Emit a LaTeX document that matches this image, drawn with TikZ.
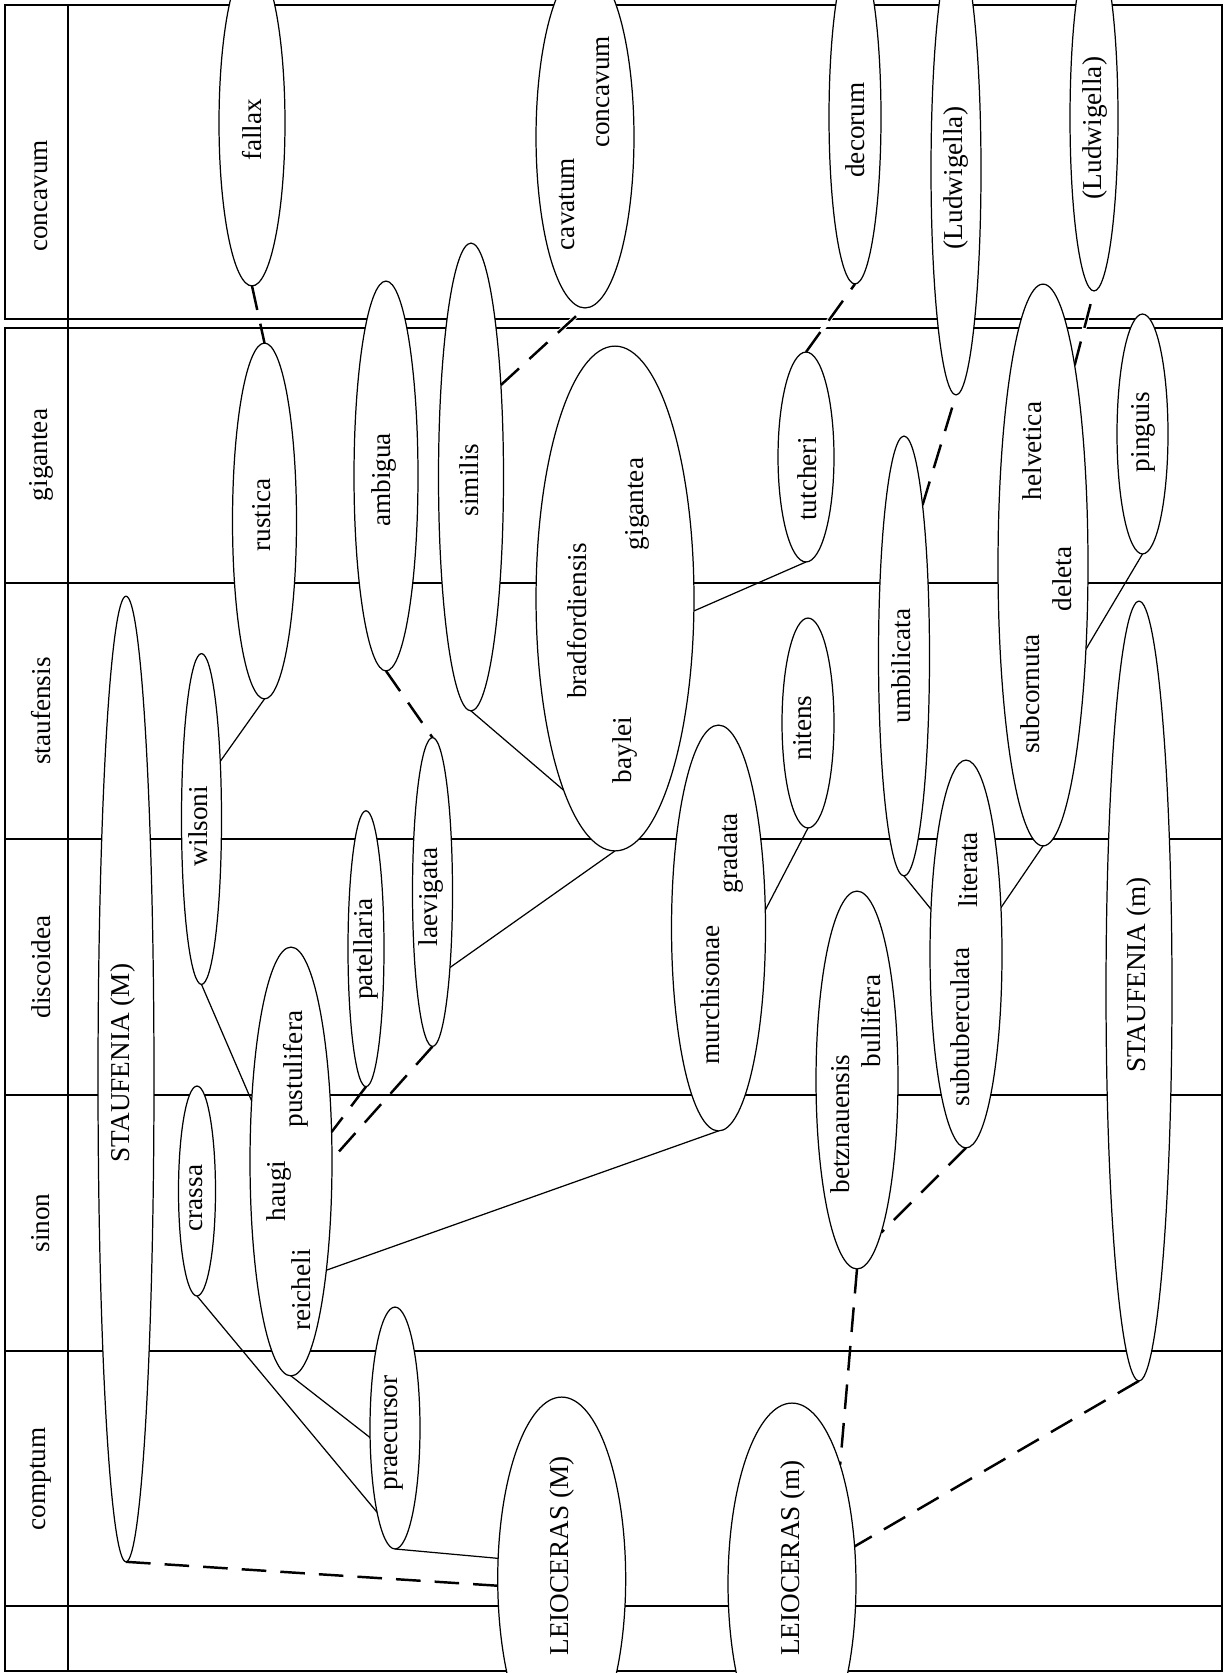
\documentclass[tikz,border=0pt]{standalone}
\usepackage{fontspec}
\setmainfont{Liberation Serif}
\usetikzlibrary{shapes.geometric,backgrounds}
\begin{document}
\begin{tikzpicture}[x=0.02cm, y=-0.02cm, font=\fontsize{15.5}{18}\selectfont]
\tikzset{
 ell/.style 2 args={ellipse, draw, fill=white, line width=0.7pt, inner sep=0pt, outer sep=0pt, minimum width={#1*0.04cm}, minimum height={#2*0.04cm}},
 lbl/.style={rotate=90, inner sep=0pt},
 gridline/.style={line width=0.6pt},
 frameline/.style={line width=0.8pt},
 link/.style={line width=0.7pt},
 dashline/.style={line width=1.4pt, dash pattern=on 14pt off 8pt},
 halo/.style={preaction={draw=white, line width=2.5pt, solid}},
}
\clip (0,0) rectangle (1224,1673);

% ellipses (taxa)
\node[ell={33}{163}] (fallax) at (252,123) {};
\node[ell={49}{171}] (cavcon) at (585,137) {};
\node[ell={26}{167}] (decorum) at (855,117) {};
\node[ell={25}{225}] (lud1) at (956,170) {};
\node[ell={24}{173}] (lud2) at (1094,118) {};
\node[ell={32}{178}] (rustica) at (264.5,521) {};
\node[ell={32}{195}] (ambigua) at (386,476) {};
\node[ell={32.5}{234}] (similis) at (471,477) {};
\node[ell={79}{252.5}] (bgb) at (615,598.5) {};
\node[ell={28}{105}] (tutcheri) at (806,457) {};
\node[ell={25.5}{220}] (umbilicata) at (904,656) {};
\node[ell={45}{281}] (hsd) at (1043,565) {};
\node[ell={25.5}{120}] (pinguis) at (1142.5,434) {};
\node[ell={28}{483}] (staufM) at (126,1079) {};
\node[ell={20}{165.5}] (wilsoni) at (201.5,819) {};
\node[ell={18}{138}] (patellaria) at (366,948.7) {};
\node[ell={20}{154.5}] (laevigata) at (432.5,892) {};
\node[ell={18.5}{105}] (crassa) at (197,1191) {};
\node[ell={41}{214.5}] (hrp) at (291,1161.5) {};
\node[ell={25}{121}] (praecursor) at (395,1428) {};
\node[ell={64}{182}] (leiM) at (561.7,1579) {};
\node[ell={64}{181}] (leim) at (792,1584) {};
\node[ell={47}{203}] (murgra) at (718.5,928) {};
\node[ell={26}{105}] (nitens) at (808,723) {};
\node[ell={36}{194}] (litsub) at (966,954) {};
\node[ell={41}{189}] (betbul) at (857,1080) {};
\node[ell={33}{390}] (staufm) at (1139,991) {};

% zone labels
\node[lbl] (z1) at (41,196) {concavum};
\node[lbl] (z2) at (41,455) {gigantea};
\node[lbl] (z3) at (41,711) {staufensis};
\node[lbl] (z4) at (41,967) {discoidea};
\node[lbl] (z5) at (41,1223) {sinon};
\node[lbl] (z6) at (41,1479) {comptum};

% taxon labels
\node[lbl] (t1) at (252,130) {fallax};
\node[lbl] (t2) at (567,204) {cavatum};
\node[lbl] (t3) at (603,92) {concavum};
\node[lbl] (t4) at (855,130) {decorum};
\node[lbl] (t5) at (956,178) {(Ludwigella)};
\node[lbl] (t6) at (1095,128) {(Ludwigella)};
\node[lbl] (t7) at (262,515) {rustica};
\node[lbl] (t8) at (384,480) {ambigua};
\node[lbl] (t9) at (469,480) {similis};
\node[lbl] (t10) at (577,621) {bradfordiensis};
\node[lbl] (t11) at (637,504) {gigantea};
\node[lbl] (t12) at (625,750) {baylei};
\node[lbl] (t13) at (807,479) {tutcheri};
\node[lbl] (t14) at (901,666) {umbilicata};
\node[lbl] (t15) at (1032,451) {helvetica};
\node[lbl] (t16) at (1062,579) {deleta};
\node[lbl] (t17) at (1030,694) {subcornuta};
\node[lbl] (t18) at (1143,432) {pinguis};
\node[lbl] (t19) at (123,1063) {STAUFENIA (M)};
\node[lbl] (t20) at (198,826) {wilsoni};
\node[lbl] (t21) at (366,949) {patellaria};
\node[lbl] (t22) at (431,897) {laevigata};
\node[lbl] (t23) at (196,1198) {crassa};
\node[lbl] (t24) at (296,1069) {pustulifera};
\node[lbl] (t25) at (279,1191) {haugi};
\node[lbl] (t26) at (301,1290) {reicheli};
\node[lbl] (t27) at (394,1433) {praecursor};
\node[lbl] (t28) at (562,1556) {LEIOCERAS (M)};
\node[lbl] (t29) at (793,1558) {LEIOCERAS (m)};
\node[lbl] (t30) at (710,995) {murchisonae};
\node[lbl] (t31) at (731,853) {gradata};
\node[lbl] (t32) at (803,728) {nitens};
\node[lbl] (t33) at (968,870) {literata};
\node[lbl] (t34) at (960,1027) {subtuberculata};
\node[lbl] (t35) at (840,1124) {betznauensis};
\node[lbl] (t36) at (871,1021) {bullifera};
\node[lbl] (t37) at (1139,975) {STAUFENIA (m)};

\begin{scope}[on background layer]
\fill[white] (0,0) rectangle (1224,1673);
% frame and zone grid
\draw[frameline] (5,5) rectangle (1222,319);
\draw[frameline] (5,328) rectangle (1222,1671);
\foreach \yy in {583,839,1095,1351,1606} \draw[gridline] (5,\yy) -- (1222,\yy);
\draw[gridline] (68,5) -- (68,1671);

% connectors
\draw[dashline] (fallax.south) -- (rustica.north);
\draw[dashline] (ambigua.south) -- (laevigata.north);
\draw[dashline,halo] (similis.72.5) -- (cavcon.south);
\draw[link] (rustica.south) -- (wilsoni.72.6);
\draw[link] (similis.south) -- (bgb.255.1);
\draw[link] (bgb.south) -- (laevigata.283.3);
\draw[link] (tutcheri.south) -- (bgb.351.4);
\draw[dashline,halo] (tutcheri.north) -- (decorum.south);
\draw[dashline] (umbilicata.83.6) -- (lud1.south);
\draw[dashline,halo] (hsd.81.2) -- (lud2.south);
\draw[link] (pinguis.south) -- (hsd.297.7);
\draw[link] (hsd.south) -- (litsub.53.7);
\draw[link] (umbilicata.south) -- (litsub.128);
\draw[link] (nitens.south) -- (murgra.21.6);
\draw[link] (wilsoni.south) -- (hrp.123.9);
\draw[dashline] (patellaria.south) -- (hrp.36.2);
\draw[dashline] (laevigata.south) -- (hrp.3.1);
\draw[link] (hrp.288.5) -- (murgra.south);
\draw[link] (crassa.south) -- (praecursor.258.9);
\draw[link] (hrp.south) -- (praecursor.201);
\draw[link] (praecursor.south) -- (leiM.162.8);
\draw[dashline] (staufM.south) -- (leiM.186.9);
\draw[dashline] (betbul.south) -- (leim.68.2);
\draw[dashline] (litsub.south) -- (betbul.279.2);
\draw[dashline] (staufm.south) -- (leim.31.3);
\end{scope}
\end{tikzpicture}
\end{document}
